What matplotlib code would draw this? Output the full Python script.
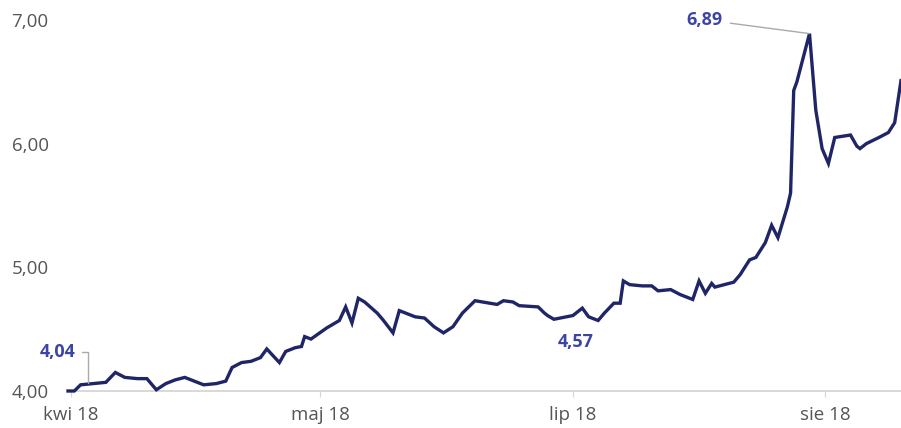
import numpy as np
import matplotlib.pyplot as plt

# numer sesji (od poczatku kwietnia) i kurs
sesja = [0, 2, 4, 8, 12, 15, 18, 22, 25, 28, 31, 34, 37, 40, 43, 47, 50, 52, 55, 58,
         61, 63, 67, 69, 72, 74, 75, 77, 82, 86, 88, 90, 92, 94, 98, 100, 103, 105, 110, 113,
         116, 119, 122, 125, 129, 136, 138, 141, 143, 149, 151, 152, 154, 160, 163, 165, 168, 170, 173, 175,
         176, 178, 182, 185, 187, 191, 194, 198, 200, 202, 204, 205, 211, 213, 216, 218, 221, 223, 225, 228,
         229, 230, 231, 235, 237, 239, 241, 243, 248, 250, 251, 253, 257, 260, 262, 264]
kurs = [4.00, 4.00, 4.05, 4.06, 4.07, 4.15, 4.11, 4.10, 4.10, 4.01, 4.06, 4.09, 4.11, 4.08, 4.05, 4.06, 4.08, 4.19, 4.23, 4.24,
        4.27, 4.34, 4.23, 4.32, 4.35, 4.36, 4.44, 4.42, 4.51, 4.57, 4.68, 4.55, 4.75, 4.72, 4.63, 4.57, 4.47, 4.65, 4.60, 4.59,
        4.52, 4.47, 4.52, 4.63, 4.73, 4.70, 4.73, 4.72, 4.69, 4.68, 4.63, 4.61, 4.58, 4.61, 4.67, 4.60, 4.57, 4.63, 4.71, 4.71,
        4.89, 4.86, 4.85, 4.85, 4.81, 4.82, 4.78, 4.74, 4.89, 4.79, 4.87, 4.84, 4.88, 4.94, 5.06, 5.08, 5.20, 5.34, 5.24, 5.49,
        5.60, 6.43, 6.50, 6.89, 6.27, 5.96, 5.84, 6.05, 6.07, 5.98, 5.96, 6.00, 6.05, 6.09, 6.17, 6.51]

etykiety_x = ['kwi 18', 'maj 18', 'lip 18', 'sie 18']
pozycje_x = [1, 80, 160, 240]
wartosci_y = [4.0, 5.0, 6.0, 7.0]

plt.rcParams['font.family'] = ['Open Sans', 'DejaVu Sans']

fig = plt.figure(figsize=(9.01, 4.28), dpi=100)
ax = fig.add_axes([68/901, 37/428, 833/901, 371/428])

ax.plot(sesja, kurs, color='#1f2566', lw=2.4, solid_joinstyle='miter', clip_on=False, zorder=3)

ax.set_xlim(0, 264)
ax.set_ylim(4.0, 7.0)
ax.set_xticks(pozycje_x)
ax.set_xticklabels(etykiety_x)
ax.set_yticks(wartosci_y)
ax.set_yticklabels([f'{v:.2f}'.replace('.', ',') for v in wartosci_y])

for s in ['top', 'right', 'left']:
    ax.spines[s].set_visible(False)
ax.spines['bottom'].set_color('#d6d6d6')
ax.spines['bottom'].set_linewidth(1.3)
ax.tick_params(axis='x', length=4, color='#d6d6d6', labelsize=13.5, labelcolor='#555555', pad=7)
ax.tick_params(axis='y', length=0, labelsize=13.5, labelcolor='#555555', pad=14)

kolor_ann = '#3d45a3'
styl_ann = dict(fontsize=13, fontweight='bold', fontstretch='normal', color=kolor_ann)
# maksimum
i_max = int(np.argmax(kurs))
ax.annotate(f'{kurs[i_max]:.2f}'.replace('.', ','), xy=(sesja[i_max], kurs[i_max]),
            xytext=(-76, 10), textcoords='offset points', ha='center', va='center',
            arrowprops=dict(arrowstyle='-', color='#aaaaaa', lw=1, shrinkA=4, shrinkB=0), **styl_ann)
# poczatek
ax.annotate('4,04', xy=(6.3, 4.065), xytext=(-22, 22), textcoords='offset points',
            ha='center', va='center',
            arrowprops=dict(arrowstyle='-', color='#aaaaaa', lw=1, shrinkA=3, shrinkB=0,
                            connectionstyle='angle,angleA=0,angleB=90,rad=0'), **styl_ann)
# minimum lipcowe
ax.text(161, 4.40, '4,57', ha='center', va='center', **styl_ann)

plt.savefig('out.png', dpi=100)
plt.close()
